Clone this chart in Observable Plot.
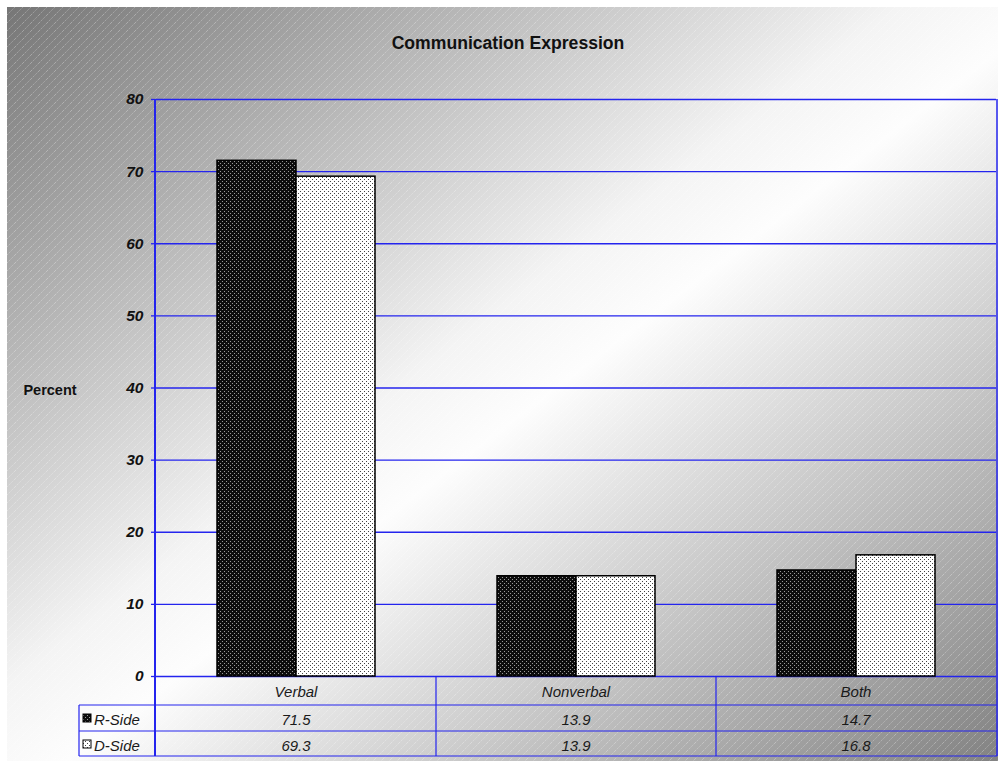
<!DOCTYPE html>
<html>
<head>
<meta charset="utf-8">
<script src="https://cdn.jsdelivr.net/npm/d3@7"></script>
<script src="https://cdn.jsdelivr.net/npm/@observablehq/plot@0.6"></script>
<style>
  body { margin: 0; background: #fff; }
  #wrap { position: relative; width: 998px; height: 761px; overflow: hidden;
          font-family: "Liberation Sans", Arial, Helvetica, sans-serif; }
  #bg { position: absolute; left: 7px; top: 7px; right: 0; bottom: 0;
        background:
          url("data:image/svg+xml;utf8,<svg xmlns='http://www.w3.org/2000/svg' width='8' height='8'><path d='M-1,1 L1,-1 M0,8 L8,0 M7,9 L9,7' stroke='white' stroke-opacity='0.3' stroke-width='1' stroke-dasharray='1.5,1'/></svg>"),
          linear-gradient(to bottom right, #767676 0%, #f4f4f4 45%, #fdfdfd 53%, #828282 100%); }
  #wrap svg.plot { position: absolute; left: 0; top: 0; }
</style>
</head>
<body>
<div id="wrap"><div id="bg"></div></div>
<script>
// ---- data ----
const categories = ["Verbal", "Nonverbal", "Both"];
const seriesNames = ["R-Side", "D-Side"];
const rSide = [71.5, 13.9, 14.7];
const dSide = [69.3, 13.9, 16.8];
const yTicks = [0, 10, 20, 30, 40, 50, 60, 70, 80];
const titleText = "Communication Expression";
const yLabelText = "Percent";

const seriesValues = { "R-Side": rSide, "D-Side": dSide };
const rows = categories.flatMap((c, i) =>
  seriesNames.map(s => ({ category: c, series: s, value: seriesValues[s][i] })));

const BLUE = "#2424ee";
const FONT = "'Liberation Sans', Arial, Helvetica, sans-serif";
const M = { top: 99, bottom: 85, left: 155, right: 1 };

const chart = Plot.plot({
  width: 998, height: 761,
  marginTop: M.top, marginBottom: M.bottom, marginLeft: M.left, marginRight: M.right,
  style: { background: "transparent", fontFamily: FONT, overflow: "visible" },
  fx: { domain: categories, padding: 0, axis: null, label: null },
  x: { domain: seriesNames, paddingInner: 0, paddingOuter: 0.754, axis: null, label: null },
  y: { domain: [0, 80], label: null },
  color: { domain: seriesNames, range: ["url(#patR)", "url(#patD)"] },
  marks: [
    Plot.gridY(yTicks, { stroke: BLUE, strokeOpacity: 1, strokeWidth: 1.3 }),
    Plot.axisY(yTicks, {
      tickSize: 5, tickPadding: 8, stroke: BLUE, strokeWidth: 1.3, fill: "#111",
      fontSize: 15.5, fontWeight: "bold", fontStyle: "italic", label: null
    }),
    Plot.barY(rows, { fx: "category", x: "series", y: "value", fill: "series",
                      stroke: "#000", strokeWidth: 1.5 })
  ]
});
chart.classList.add("plot");
document.getElementById("wrap").appendChild(chart);

const svg = d3.select(chart);
// patterns
const defs = svg.insert("defs", ":first-child");
const pR = defs.append("pattern").attr("id", "patR").attr("patternUnits", "userSpaceOnUse")
  .attr("width", 4).attr("height", 4);
pR.append("rect").attr("width", 4).attr("height", 4).attr("fill", "#0d0d0d");
pR.append("rect").attr("x", 1).attr("y", 1).attr("width", 1).attr("height", 1).attr("fill", "#9a9a9a");
pR.append("rect").attr("x", 3).attr("y", 3).attr("width", 1).attr("height", 1).attr("fill", "#9a9a9a");
const pD = defs.append("pattern").attr("id", "patD").attr("patternUnits", "userSpaceOnUse")
  .attr("width", 4).attr("height", 4);
pD.append("rect").attr("width", 4).attr("height", 4).attr("fill", "#ffffff");
pD.append("rect").attr("x", 1).attr("y", 1).attr("width", 1).attr("height", 1).attr("fill", "#444");
pD.append("rect").attr("x", 3).attr("y", 3).attr("width", 1).attr("height", 1).attr("fill", "#444");

// geometry from the library's scales
const yS = chart.scale("y");
const fxS = chart.scale("fx");
const fxOff = Math.min(...fxS.range) < 1 ? M.left : 0;
const colLeft = c => fxOff + fxS.apply(c);
const colW = fxS.step || fxS.bandwidth;
const yTop = yS.apply(80), yZero = yS.apply(0);
const xLeft = M.left, xRight = 998 - M.right;
const rowH = [29, 26, 25];
const yHead = yZero + rowH[0], yRow1 = yHead + rowH[1], yBottom = yRow1 + rowH[2];
const legendLeft = 79;

const g = svg.append("g").attr("stroke", BLUE).attr("fill", "none");
const line = (x1, y1, x2, y2, w) => g.append("line").attr("x1", x1).attr("y1", y1)
  .attr("x2", x2).attr("y2", y2).attr("stroke-width", w);
line(xLeft, yTop, xLeft, yBottom, 2);
line(xRight, yTop, xRight, yBottom, 1.5);
[yHead, yRow1, yBottom].forEach(yy => line(legendLeft, yy, xRight, yy, 1.2));
line(legendLeft, yHead, legendLeft, yBottom, 1.2);
categories.slice(1).forEach(c => line(colLeft(c), yZero, colLeft(c), yBottom, 1.2));

// table text
const tg = svg.append("g").attr("font-family", FONT).attr("font-size", 15)
  .attr("font-style", "italic").attr("fill", "#1a1a1a").attr("text-anchor", "middle");
categories.forEach((c, i) => {
  const cx = colLeft(c) + colW / 2;
  tg.append("text").attr("x", cx).attr("y", yZero + 20.5).text(c);
  tg.append("text").attr("x", cx).attr("y", yHead + 20).text(rSide[i].toFixed(1));
  tg.append("text").attr("x", cx).attr("y", yRow1 + 20).text(dSide[i].toFixed(1));
});
seriesNames.forEach((s, i) => {
  const top = i === 0 ? yHead : yRow1;
  svg.append("rect").attr("x", 83).attr("y", top + 9).attr("width", 8).attr("height", 8)
    .attr("fill", i === 0 ? "url(#patR)" : "url(#patD)").attr("stroke", "#000").attr("stroke-width", 1);
  tg.append("text").attr("x", 94).attr("y", top + 20).attr("text-anchor", "start").text(s);
});

// title and y label
svg.append("text").attr("x", 508).attr("y", 49).attr("text-anchor", "middle")
  .attr("font-family", FONT).attr("font-weight", "bold").attr("font-size", 17.6)
  .attr("fill", "#111").text(titleText);
svg.append("text").attr("x", 50).attr("y", 395).attr("text-anchor", "middle")
  .attr("font-family", FONT).attr("font-weight", "bold").attr("font-size", 14.5)
  .attr("fill", "#111").text(yLabelText);
</script>
</body>
</html>
